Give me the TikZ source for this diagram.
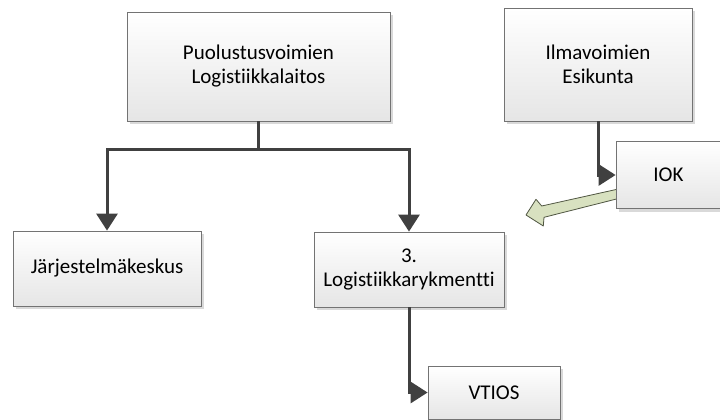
\documentclass[tikz,border=0pt]{standalone}
\usepackage{fontspec}
\setmainfont{Carlito}[Ligatures=NoCommon]
\usetikzlibrary{arrows.meta,shadows}

\begin{document}
\begin{tikzpicture}[x=1pt,y=-1pt,
    orgbox/.style={draw=black!55,line width=0.8pt,top color=white,bottom color=black!10,
        drop shadow={shadow xshift=3pt,shadow yshift=-3pt,fill=black!25,opacity=0.6},
        align=center,inner sep=2pt,font=\fontsize{21}{24}\selectfont},
    conn/.style={draw=black!75,line width=3pt,-{Triangle[length=17pt,width=21pt]}},
    font=\fontsize{21}{24}\selectfont
    ]
    \useasboundingbox (0,0) rectangle (720,420);
    % green block arrow (drawn under IOK)
    \draw[fill={rgb,255:red,216;green,225;blue,192},draw={rgb,255:red,80;green,86;blue,66},line width=0.8pt,line join=round]
        (617,189.3) -- (618.5,198.5) -- (544,217.3) -- (543.3,226) -- (526,215)
        -- (536,199.3) -- (541.7,206) -- cycle;
    \node[orgbox,minimum width=263pt,minimum height=109pt] (plv) at (258.5,66.5) {Puolustusvoimien\\Logistiikkalaitos};
    \node[orgbox,minimum width=188pt,minimum height=113pt] (ilm) at (598,64.5) {Ilmavoimien\\Esikunta};
    \node[orgbox,minimum width=105pt,minimum height=67pt] (iok) at (668.5,175) {IOK};
    \node[orgbox,minimum width=188pt,minimum height=75pt] (jar) at (107,268.5) {Järjestelmäkeskus};
    \node[orgbox,minimum width=190pt,minimum height=75pt] (log) at (409,269.5) {3.\\Logistiikkarykmentti};
    \node[orgbox,minimum width=132pt,minimum height=53pt] (vtios) at (494,392.5) {VTIOS};
    % connectors
    \draw[conn] (plv.south) -- ++(0,28) -| (jar.north);
    \draw[conn] (plv.south) -- ++(0,28) -| (log.north);
    \draw[conn] (ilm.south) |- (iok.west);
    \draw[conn] (log.south) |- (vtios.west);
\end{tikzpicture}
\end{document}
